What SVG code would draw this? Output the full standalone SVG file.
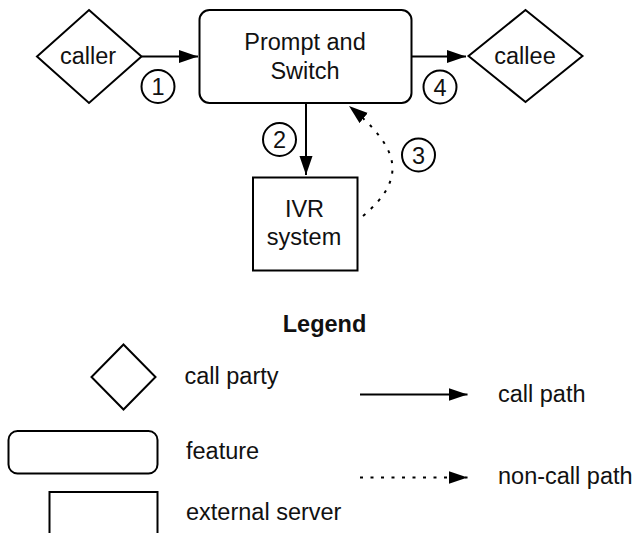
<svg xmlns="http://www.w3.org/2000/svg" width="636" height="533" viewBox="0 0 636 533">
  <style>
    .shape { fill: #ffffff; stroke: #000000; stroke-width: 2; }
    .label { font-family: "Liberation Sans", Arial, Helvetica, sans-serif; font-size: 23.5px; fill: #111111; }
    .mid { text-anchor: middle; }
    .title { font-weight: bold; }
    .edge { fill: none; stroke: #000000; stroke-width: 2; }
    .dotted { stroke-dasharray: 3 7.5; }
    .step { fill: #ffffff; stroke: #000000; stroke-width: 2; }
  </style>
  <defs>
    <marker id="head" markerUnits="userSpaceOnUse" markerWidth="20" markerHeight="14" refX="19" refY="6.5" orient="auto">
      <path d="M0,0 L19,6.5 L0,13 z" fill="#000000"/>
    </marker>
  </defs>

  <rect width="636" height="533" fill="#ffffff"/>

  <!-- main call flow -->
  <g id="caller">
    <polygon class="shape" points="89,10 141.5,56.5 89,103 37,56.5"/>
    <text class="label mid" x="88" y="63.5">caller</text>
  </g>

  <g id="prompt-and-switch">
    <rect class="shape" x="199.5" y="10" width="212" height="93" rx="10" ry="10"/>
    <text class="label mid" x="305" y="50">Prompt and</text>
    <text class="label mid" x="305" y="78.5">Switch</text>
  </g>

  <g id="callee">
    <polygon class="shape" points="525.5,10 582.5,56 525.5,102 468.5,56"/>
    <text class="label mid" x="525" y="63.5">callee</text>
  </g>

  <g id="ivr-system">
    <rect class="shape" x="253" y="177.5" width="104.5" height="93"/>
    <text class="label mid" x="304.5" y="216.5">IVR</text>
    <text class="label mid" x="304" y="245">system</text>
  </g>

  <g id="connectors">
    <line class="edge" x1="141.5" y1="56.5" x2="198" y2="56.5" marker-end="url(#head)"/>
    <line class="edge" x1="306" y1="103" x2="306" y2="175" marker-end="url(#head)"/>
    <path class="edge dotted" d="M363,216 C408,178 400,148 349,106" marker-end="url(#head)"/>
    <line class="edge" x1="411.5" y1="56.5" x2="466" y2="56.5" marker-end="url(#head)"/>
  </g>

  <!-- step numbers -->
  <g id="step-1">
    <circle class="step" cx="158" cy="86.5" r="16.5"/>
    <text class="label mid" x="158" y="95">1</text>
  </g>
  <g id="step-2">
    <circle class="step" cx="279.5" cy="139.5" r="16.5"/>
    <text class="label mid" x="279.5" y="148">2</text>
  </g>
  <g id="step-3">
    <circle class="step" cx="418.5" cy="155" r="16.5"/>
    <text class="label mid" x="418.5" y="163.5">3</text>
  </g>
  <g id="step-4">
    <circle class="step" cx="440" cy="87" r="16.5"/>
    <text class="label mid" x="440" y="95.5">4</text>
  </g>

  <!-- legend -->
  <g id="legend">
    <text class="label title mid" x="324.5" y="331.5">Legend</text>

    <g id="legend-call-party">
      <polygon class="shape" points="123.5,344.5 155.5,377 123.5,409.5 91.5,377"/>
      <text class="label" x="184.5" y="384">call party</text>
    </g>

    <g id="legend-feature">
      <rect class="shape" x="8.5" y="431" width="149" height="42.5" rx="9" ry="9"/>
      <text class="label" x="186" y="458.5">feature</text>
    </g>

    <g id="legend-external-server">
      <rect class="shape" x="49.5" y="492" width="108" height="50"/>
      <text class="label" x="186" y="520">external server</text>
    </g>

    <g id="legend-call-path">
      <line class="edge" x1="360" y1="394.5" x2="467.5" y2="394.5" marker-end="url(#head)"/>
      <text class="label" x="498" y="401.5">call path</text>
    </g>

    <g id="legend-non-call-path">
      <line class="edge dotted" x1="360" y1="477.5" x2="467.5" y2="477.5" marker-end="url(#head)"/>
      <text class="label" x="498" y="484">non-call path</text>
    </g>
  </g>
</svg>
